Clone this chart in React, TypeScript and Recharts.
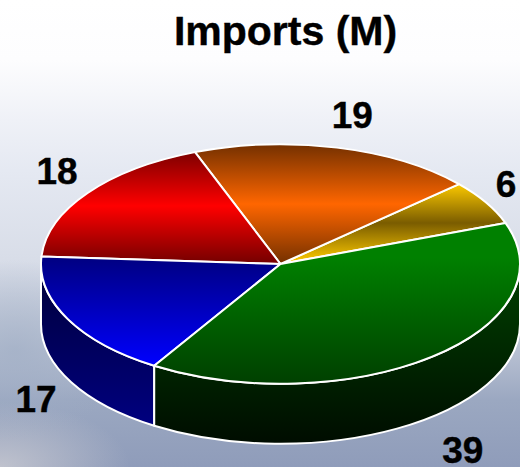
import React from 'react';
import { PieChart, Pie } from 'recharts';

const sliceNames = ['gold', 'orange', 'red', 'blue', 'green'];
const sliceValues = [6, 19, 18, 17, 39];

const slices = sliceNames.map((name, i) => ({
  name,
  value: sliceValues[i],
}));

const WIDTH = 520;
const HEIGHT = 467;
const CX = 280;
const CY = 264;
const RADIUS = 240;
const TILT = 0.5;
const DEPTH = 60;

// Small per-slice tweaks so the value labels clear the disc and the page edge
const labelNudge: Record<string, [number, number]> = {
  gold: [-21, 0],
  orange: [4, 3],
  red: [8, 0],
  blue: [11, 4],
  green: [1, 6],
};

const rad = (deg: number) => (deg * Math.PI) / 180;

function rimPoint(cx: number, cy: number, r: number, deg: number, drop = 0) {
  const x = cx + r * Math.cos(rad(deg));
  const y = cy - r * TILT * Math.sin(rad(deg)) + drop;
  return `${x.toFixed(2)} ${y.toFixed(2)}`;
}

// Draws one slice as a tilted wedge plus the visible part of its outer wall
function TiltedSlice(props: any) {
  const { cx, cy, outerRadius: r, startAngle, endAngle, name } = props;
  const low = Math.min(startAngle, endAngle);
  const high = Math.max(startAngle, endAngle);
  const ry = r * TILT;
  const wallFrom = Math.max(low, 180);
  const wallTo = Math.min(high, 360);
  const hasWall = wallTo > wallFrom;
  const wedge =
    `M ${cx} ${cy} L ${rimPoint(cx, cy, r, low)} ` +
    `A ${r} ${ry} 0 ${high - low > 180 ? 1 : 0} 0 ${rimPoint(cx, cy, r, high)} Z`;
  const wall =
    `M ${rimPoint(cx, cy, r, wallFrom)} ` +
    `A ${r} ${ry} 0 0 0 ${rimPoint(cx, cy, r, wallTo)} ` +
    `L ${rimPoint(cx, cy, r, wallTo, DEPTH)} ` +
    `A ${r} ${ry} 0 0 1 ${rimPoint(cx, cy, r, wallFrom, DEPTH)} Z`;
  return (
    <g>
      {hasWall && (
        <path d={wall} fill={`url(#wall-${name})`} stroke="#fff" strokeWidth={2} strokeLinejoin="round" />
      )}
      <path d={wedge} fill={`url(#top-${name})`} stroke="#fff" strokeWidth={2} strokeLinejoin="round" />
    </g>
  );
}

function ValueLabel(props: any) {
  const { cx, cy, outerRadius: r, midAngle, value, name } = props;
  const x = cx + 1.2 * r * Math.cos(rad(midAngle));
  const sin = Math.sin(rad(midAngle));
  const y = cy - 1.3 * r * TILT * sin + (sin < 0 ? DEPTH : 0);
  const [nx, ny] = labelNudge[name] ?? [0, 0];
  return (
    <text
      x={x + nx}
      y={y + ny}
      textAnchor="middle"
      dominantBaseline="central"
      fontFamily="'Liberation Sans', Arial, sans-serif"
      fontWeight={700}
      fontSize={37}
      stroke="#000"
      strokeWidth={0.4}
      fill="#000"
    >
      {value}
    </text>
  );
}

function Ramp({ id, y1, y2, stops }: { id: string; y1: number; y2: number; stops: [number, string][] }) {
  return (
    <linearGradient id={id} gradientUnits="userSpaceOnUse" x1={0} x2={0} y1={y1} y2={y2}>
      {stops.map(([offset, color]) => (
        <stop key={offset} offset={offset} stopColor={color} />
      ))}
    </linearGradient>
  );
}

const pageBackground = [
  'radial-gradient(ellipse 110px 90px at 15px 350px, rgba(160,174,197,0.7), rgba(160,174,197,0))',
  'radial-gradient(ellipse 130px 65px at 0px 467px, rgba(200,201,209,0.85), rgba(200,201,209,0))',
  'linear-gradient(180deg, #ffffff 0px, #fdfdfe 60px, #eff1f7 120px, #e5e9f2 170px, #d8dde8 260px, #bec6d6 340px, #9ba8c1 400px, #8f9cba 467px)',
].join(', ');

export default function App() {
  return (
    <div
      style={{
        position: 'absolute',
        left: 0,
        top: 0,
        width: WIDTH,
        height: HEIGHT,
        overflow: 'hidden',
        background: pageBackground,
      }}
    >
      <PieChart width={WIDTH} height={HEIGHT} margin={{ top: 0, right: 0, bottom: 0, left: 0 }}>
        <defs>
          <Ramp id="top-gold" y1={183} y2={263} stops={[[0, '#ffcc00'], [0.5, '#7a5c00'], [1, '#ffcc00']]} />
          <Ramp id="top-orange" y1={144} y2={264} stops={[[0, '#733000'], [0.5, '#ff6600'], [1, '#733000']]} />
          <Ramp id="top-red" y1={150} y2={262} stops={[[0, '#780000'], [0.5, '#ff0000'], [1, '#780000']]} />
          <Ramp id="top-blue" y1={256} y2={366} stops={[[0, '#000080'], [1, '#0000ff']]} />
          <Ramp id="top-green" y1={225} y2={385} stops={[[0, '#008000'], [0.2, '#008000'], [1, '#003f00']]} />
          <Ramp id="wall-blue" y1={264} y2={426} stops={[[0, '#000038'], [1, '#000080']]} />
          <Ramp id="wall-green" y1={270} y2={445} stops={[[0, '#004000'], [1, '#000c00']]} />
        </defs>
        <text
          x={285.5}
          y={45}
          textAnchor="middle"
          fontFamily="'Liberation Sans', Arial, sans-serif"
          fontWeight={700}
          fontSize={41}
          stroke="#000"
          strokeWidth={0.4}
          fill="#000"
        >
          Imports (M)
        </text>
        <Pie
          data={slices}
          dataKey="value"
          nameKey="name"
          cx={CX + 0.5}
          cy={CY}
          outerRadius={RADIUS - 0.5}
          startAngle={20}
          endAngle={380}
          paddingAngle={0}
          shape={TiltedSlice}
          label={ValueLabel}
          labelLine={false}
          isAnimationActive={false}
        />
      </PieChart>
    </div>
  );
}
